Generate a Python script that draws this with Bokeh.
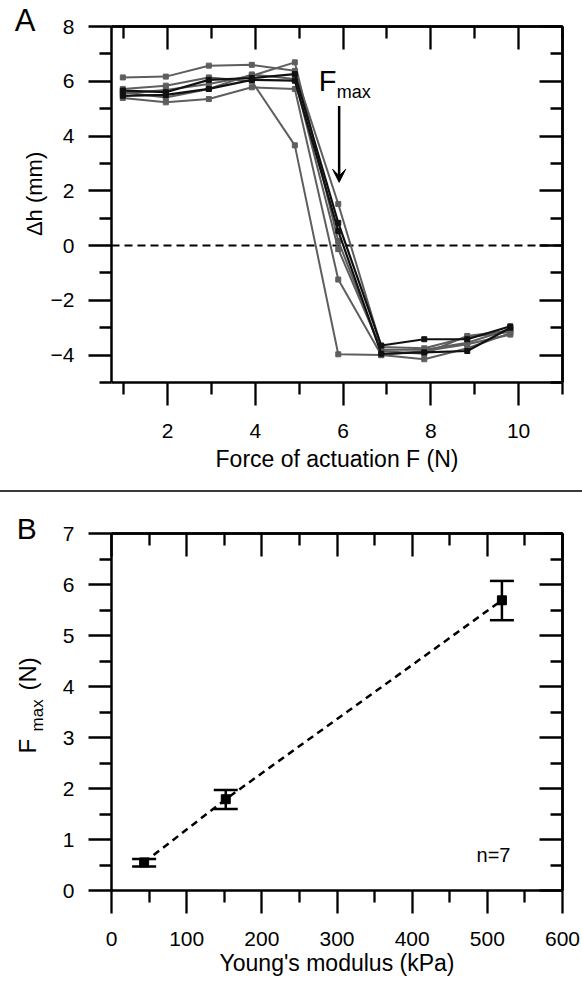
import math
from bokeh.plotting import figure
from bokeh.models import (LinearAxis, FixedTicker, Range1d, Label,
                          Arrow, VeeHead, Whisker, TeeHead, ColumnDataSource, Div)
from bokeh.layouts import column
from bokeh.embed import file_html
from bokeh.resources import INLINE

# ---------------- data: panel A ----------------
force_N = [0.98, 1.96, 2.94, 3.92, 4.90, 5.89, 6.87, 7.85, 8.83, 9.81]
gray_series = [
    [6.14, 6.17, 6.57, 6.60, 6.38, 1.52, -3.70, -3.75, -3.35, -3.15],
    [5.55, 5.68, 5.90, 6.20, 6.69, 0.17, -3.85, -3.95, -3.30, -3.10],
    [5.39, 5.23, 5.35, 5.78, 5.72, -1.24, -4.00, -4.15, -3.75, -3.20],
    [5.72, 5.84, 6.14, 6.00, 3.66, -3.97, -4.00, -3.85, -3.60, -3.25],
    [5.60, 5.41, 5.72, 6.25, 6.08, -0.13, -3.80, -3.80, -3.55, -3.05],
]
black_series = [
    [5.66, 5.60, 6.05, 6.12, 6.26, 0.83, -3.65, -3.42, -3.42, -2.95],
    [5.47, 5.50, 5.72, 6.05, 6.02, 0.53, -3.95, -3.90, -3.85, -3.00],
]
zero_level = [0, 0]
fmax_arrow_x = 5.91
fmax_arrow_y = [5.10, 2.31]
a_x_lim = [0.722, 11.0]
a_y_lim = [-5, 8]
a_x_major = [2, 4, 6, 8, 10]
a_x_minor = [1, 3, 5, 7, 9, 11]
a_y_major = [-4, -2, 0, 2, 4, 6, 8]
a_y_minor = [-5, -3, -1, 1, 3, 5, 7]

# ---------------- data: panel B ----------------
young_kpa = [43.4, 152.0, 519.4]
fmax_mean = [0.55, 1.79, 5.69]
fmax_low = [0.47, 1.60, 5.30]
fmax_high = [0.62, 1.97, 6.07]
b_x_lim = [0, 600]
b_y_lim = [0, 7]
b_x_major = [0, 100, 200, 300, 400, 500, 600]
b_x_minor = [50, 150, 250, 350, 450, 550]
b_y_major = [0, 1, 2, 3, 4, 5, 6, 7]
b_y_minor = [0.5, 1.5, 2.5, 3.5, 4.5, 5.5, 6.5]

FONT = "Liberation Sans"
GRAY = "#5e5e5e"
W = 582


def full_range_x(lo, hi, px_lo, px_hi, total):
    per = (hi - lo) / (px_hi - px_lo)
    return Range1d(lo - px_lo * per, hi + (total - px_hi) * per)


def full_range_y(lo, hi, px_top, px_bottom, total):
    per = (hi - lo) / (px_bottom - px_top)
    return Range1d(lo - (total - px_bottom) * per, hi + px_top * per)


def base_axis(loc, bounds):
    ax = LinearAxis(fixed_location=loc, bounds=tuple(bounds))
    ax.axis_line_width = 2.5
    ax.axis_line_color = "black"
    ax.major_tick_line_width = 2.3
    ax.minor_tick_line_width = 2.3
    ax.major_tick_line_color = "black"
    ax.minor_tick_line_color = "black"
    return ax


def labelled_axis(p, side, loc, bounds, major, minor, standoff):
    ax = base_axis(loc, bounds)
    ax.ticker = FixedTicker(ticks=major, minor_ticks=minor)
    ax.major_tick_in, ax.major_tick_out = 0, 23
    ax.minor_tick_in, ax.minor_tick_out = 0, 12
    ax.major_label_text_font = FONT
    ax.major_label_text_font_size = "21px"
    ax.major_label_text_color = "black"
    ax.major_label_standoff = standoff
    p.add_layout(ax, side)


def mirror_axis(p, side, loc, bounds, major, minor):
    # ticks pointing into the frame, no labels
    for ticks, length in ((major, 23), (minor, 12)):
        ax = base_axis(loc, bounds)
        ax.ticker = FixedTicker(ticks=[], minor_ticks=ticks)
        ax.major_tick_in = ax.major_tick_out = 0
        ax.minor_tick_in, ax.minor_tick_out = length, 0
        p.add_layout(ax, side)


def lab(p, x, y, text, size, angle=0.0, align="left"):
    lift = 0.38 * size  # correct the renderer's baseline placement
    if angle:
        xo, yo = -lift, 0
    else:
        xo, yo = 0, lift
    p.add_layout(Label(x=x, y=y, text=text, text_font=FONT, text_font_size=f"{size}px",
                       text_color="black", angle=angle, text_align=align,
                       text_baseline="alphabetic", x_offset=xo, y_offset=yo))


def make_fig(h, xlim, ylim, top_px, bottom_px):
    p = figure(width=W, height=h, title=None,
               x_range=full_range_x(xlim[0], xlim[1], 111, 562, W),
               y_range=full_range_y(ylim[0], ylim[1], top_px, bottom_px, h),
               output_backend="svg", toolbar_location=None,
               x_axis_location=None, y_axis_location=None,
               min_border=0, outline_line_color=None)
    p.grid.visible = False
    return p


# ================= Panel A =================
HA = 490
pA = make_fig(HA, a_x_lim, a_y_lim, 26, 382)
labelled_axis(pA, "below", a_y_lim[0], a_x_lim, a_x_major, a_x_minor, 18)
labelled_axis(pA, "left", a_x_lim[0], a_y_lim, a_y_major, a_y_minor, 14)
mirror_axis(pA, "above", a_y_lim[1], a_x_lim, a_x_major, a_x_minor)
mirror_axis(pA, "right", a_x_lim[1], a_y_lim, a_y_major, a_y_minor)

pA.line(a_x_lim, zero_level, line_color="black", line_width=2, line_dash="8 5")

for ys in gray_series:
    pA.line(force_N, ys, line_color=GRAY, line_width=2)
    pA.scatter(force_N, ys, marker="square", size=5, fill_color=GRAY, line_color=GRAY)
for ys in black_series:
    pA.line(force_N, ys, line_color="#111111", line_width=2.2)
    pA.scatter(force_N, ys, marker="square", size=5, fill_color="#111111", line_color="#111111")

pA.add_layout(Arrow(end=VeeHead(size=13, fill_color="black", line_color="black", line_width=1),
                    x_start=fmax_arrow_x, y_start=fmax_arrow_y[0],
                    x_end=fmax_arrow_x, y_end=fmax_arrow_y[1],
                    line_color="black", line_width=2.5))
lab(pA, 5.445, 5.594, "F", 29)
lab(pA, 5.855, 5.353, "max", 18)
lab(pA, 5.861, -8.12, "Force of actuation F (N)", 23, align="center")
lab(pA, -0.852, 1.886, "Δh (mm)", 22, angle=math.pi / 2, align="center")
lab(pA, -1.484, 7.78, "A", 31)

# ================= separator =================
sep = Div(width=W, height=2, margin=0, styles={"background-color": "#3a3a3a"})

# ================= Panel B =================
HB = 489
pB = make_fig(HB, b_x_lim, b_y_lim, 41, 398)
labelled_axis(pB, "below", b_y_lim[0], b_x_lim, b_x_major, b_x_minor, 18)
labelled_axis(pB, "left", b_x_lim[0], b_y_lim, b_y_major, b_y_minor, 14)
mirror_axis(pB, "above", b_y_lim[1], b_x_lim, b_x_major, b_x_minor)
mirror_axis(pB, "right", b_x_lim[1], b_y_lim, b_y_major, b_y_minor)

srcB = ColumnDataSource(dict(x=young_kpa, y=fmax_mean, lo=fmax_low, hi=fmax_high))
pB.line("x", "y", source=srcB, line_color="black", line_width=2.5, line_dash="7 5")
pB.add_layout(Whisker(source=srcB, base="x", upper="hi", lower="lo", dimension="height",
                      line_color="black", line_width=2.5,
                      upper_head=TeeHead(size=24, line_color="black", line_width=2.5),
                      lower_head=TeeHead(size=24, line_color="black", line_width=2.5)))
pB.scatter("x", "y", source=srcB, marker="square", size=9, fill_color="black", line_color="black")

lab(pB, 300, -1.60, "Young's modulus (kPa)", 23, align="center")
lab(pB, -99.8, 2.686, "F", 24, angle=math.pi / 2)
lab(pB, -90.5, 3.12, "max", 17, angle=math.pi / 2)
lab(pB, -99.8, 3.92, "(N)", 24, angle=math.pi / 2)
lab(pB, 485.6, 0.555, "n=7", 20)
lab(pB, -126.0, 6.87, "B", 30)

layout = column(pA, sep, pB, spacing=0)
open("out.html", "w").write(file_html(layout, INLINE))
